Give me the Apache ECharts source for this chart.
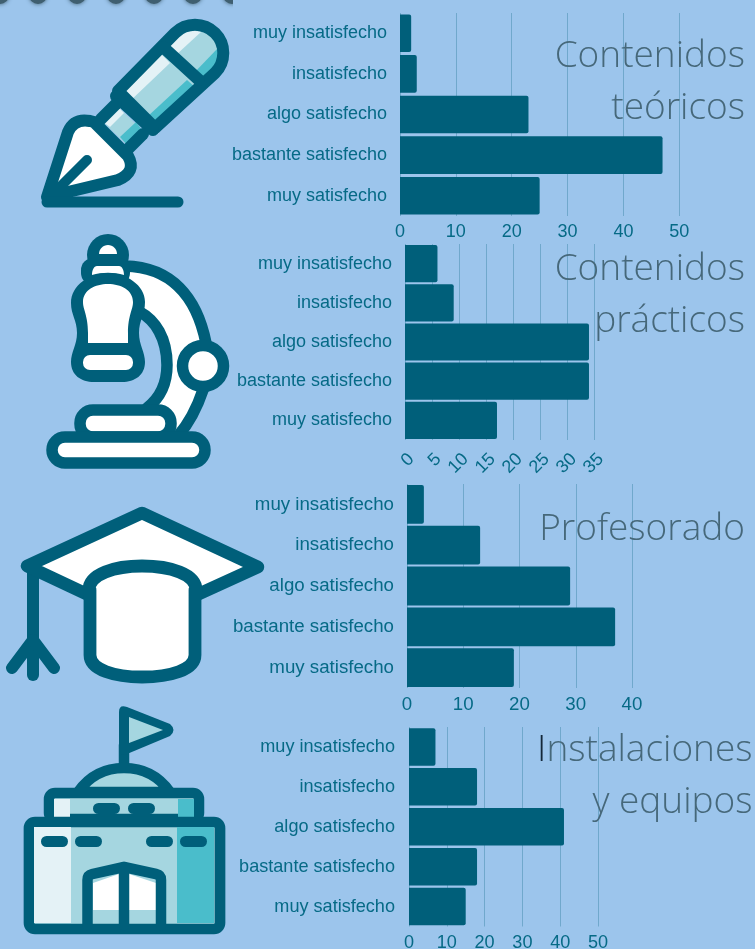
<!DOCTYPE html>
<html>
<head>
<meta charset="utf-8">
<style>html,body{margin:0;padding:0;background:#9cc5ec}#c{width:755px;height:949px}</style>
<script src="https://cdn.jsdelivr.net/npm/echarts@6/dist/echarts.min.js"></script>
</head>
<body>
<div id="c"></div>
<script>
const categories = ['muy insatisfecho','insatisfecho','algo satisfecho','bastante satisfecho','muy satisfecho'];
const teoricos = [2,3,23,47,25];
const practicos = [6,9,34,34,17];
const profesorado = [3,13,29,37,19];
const instalaciones = [7,18,41,18,15];
const titles = ['Contenidos\nteóricos','Contenidos\nprácticos','Profesorado','{i|I}nstalaciones\ny equipos'];

const DARK='#005f7a', LABEL='#066a86', LIGHT='#a5d6e0', PALE='#e4f2f6', TEAL='#4abdcb', WHITE='#ffffff', BG='#9cc5ec';
const panels = [
 {data:teoricos, left:400,width:279.3,top:13,height:203,max:50,interval:10,rotate:0,margin:7,vAlign:null,gap:'7.5%',size:18,catMargin:13},
 {data:practicos,left:405,width:189.4,top:244,height:196,max:35,interval:5,rotate:45,margin:10,vAlign:'top',gap:'5%',size:18,catMargin:13},
 {data:profesorado,left:407,width:225,top:484,height:204,max:40,interval:10,rotate:0,margin:7,vAlign:null,gap:'5%',size:18.7,catMargin:13},
 {data:instalaciones,left:409,width:189,top:727,height:199.5,max:50,interval:10,rotate:0,margin:7,vAlign:null,gap:'6%',size:18.1,catMargin:14}
];
const titlePos=[{left:745,top:30},{left:745,top:243},{left:745,top:503},{left:752.5,top:724}];

let shapeId=0;
function P(d,fill,stroke,w){
  const name='ic'+(shapeId++);
  echarts.graphic.registerShape(name,echarts.graphic.extendPath(d,{}));
  return {type:name,silent:true,style:{fill:fill||'none',stroke:stroke||'none',lineWidth:w||0,lineJoin:'round',lineCap:'round'}};
}
function R(x,y,w,h,r,fill,stroke,lw){
  return {type:'rect',silent:true,shape:{x,y,width:w,height:h,r},style:{fill,stroke:stroke||'none',lineWidth:lw||0}};
}
function C(cx,cy,r,fill,stroke,lw,extra){
  return {type:'circle',silent:true,shape:{cx,cy,r},style:Object.assign({fill,stroke:stroke||'none',lineWidth:lw||0},extra||{})};
}
const W=12;
const pen=[
 P('M118,91 L175,33 A28,28 0 0 1 215,73 L155,128 Z',LIGHT),
 P('M120,93 L160,53 L170,63 L128,103 Z',PALE),
 P('M147,117 L187,80 L196,88 L155,128 Z',TEAL),
 P('M166,46 C175,36 190,28 201,32 L176,55 Z',PALE),
 P('M218,48 C219,60 216,68 210,74 L202,81 L193,74 Z',TEAL),
 P('M103,122 L118,107 L142,130 L127,145 Z',LIGHT),
 P('M103,122 L118,107 L124,113 L110,127 Z',PALE),
 P('M120,137 L136,122 L142,130 L127,145 Z',TEAL),
 P('M118,91 L175,33 A28,28 0 0 1 215,73 L155,128 Z','none',DARK,W),
 P('M163,47 L199,80','none',DARK,W),
 P('M116,96 L153,130','none',DARK,W),
 P('M101,119 L116,104','none',DARK,W),
 P('M128,149 L143,134','none',DARK,W),
 P('M47,197 L68,132 Q74,118 90,121 L94,122 L128,156 Q137,172 118,180 Z',WHITE,DARK,W),
 P('M87,160 L52,195','none',DARK,10),
 P('M47,202 L178,202','none',DARK,W-1)
];
const micro=[
 P('M125,266 C175,268 195,300 206,343 L203,390 C197,405 192,420 178,436 L150,410 C170,395 175,375 168,355 C165,335 155,320 140,312 Z',WHITE),
 P('M125,266 C172,267 197,298 206,343','none',DARK,11.5),
 P('M203,390 C197,408 190,422 178,436','none',DARK,11.5),
 P('M140,312 C155,320 167,338 167,365 C167,385 160,398 147,408','none',DARK,11.5),
 C(108,255,21,DARK),
 R(81,258,49,27,12,DARK),
 P('M99,254 C99,249 103,245 108,245 C113,245 117,249 117,254 Z',WHITE),
 P('M92,275 C92,270 94,266 97,266 L119,266 C122,266 124,270 124,275 C114,272 102,272 92,275 Z',WHITE),
 P('M71,303 C71,285 90,273 108,273 C126,273 145,285 145,302 C145,315 139,320 139,333 C139,345 145,352 145,362 C145,375 135,382 122,382 L94,382 C81,382 71,375 71,362 C71,352 77,345 77,333 C77,320 71,315 71,303 Z',DARK),
 P('M83,302 C83,290 95,284 108,284 C121,284 133,290 133,302 C133,310 128,315 128,333 L128,343 L88,343 L88,333 C88,315 83,310 83,302 Z',WHITE),
 R(83,355,50,15,7,WHITE),
 R(80,410,91,27,13,WHITE,DARK,11.5),
 R(52,437,153,26,13,WHITE,DARK,11.5),
 C(203,366,20.5,WHITE,DARK,11.5)
];
const cap=[
 P('M33,675 L33,566','none',DARK,12),
 P('M33,640 L12,668','none',DARK,12),
 P('M33,640 L54,668','none',DARK,12),
 P('M142,513 L258,567 L190,598 L95,598 L27,566 Z',WHITE,DARK,12.5),
 P('M89,590 C89,574 115,566 142,566 C170,566 196,574 196,590 L195,655 C195,670 170,677 142,677 C115,677 89,670 89,655 Z',WHITE),
 P('M89,590 C89,574 115,566 142,566 C170,566 196,574 196,590 M195,590 L195,655 C195,670 170,677 142,677 C115,677 90,670 90,655 L90,590','none',DARK,12.8)
];
const build=[
 P('M124,767 L124,745','none',DARK,10.5),
 P('M119,712 Q119,704 127,707 L170,724 Q177,730 170,736 L127,754 Q119,756 119,750 Z',DARK),
 P('M129,717 L163,730 L129,743 Z',LIGHT),
 P('M78,792 C90,775 105,768 124,768 C143,768 158,775 170,792 Z',LIGHT,DARK,10.5),
 R(49,793,150,26,6,LIGHT,DARK,10.5),
 R(54,799,16,18,0,PALE),
 R(178,799,16,18,0,TEAL),
 R(93,803,27,11,5.5,DARK),
 R(128,803,27,11,5.5,DARK),
 R(29,822,191,107,6,LIGHT,DARK,10.7),
 R(34,827,37,96,0,PALE),
 R(177,827,37,96,0,TEAL),
 R(41,836,27,11,5.5,DARK),
 R(75,836,27,11,5.5,DARK),
 R(146,836,27,11,5.5,DARK),
 R(180,836,27,11,5.5,DARK),
 P('M93,883 L119,874 L119,910 L93,910 Z',WHITE),
 P('M129,874 L156,883 L156,910 L129,910 Z',WHITE),
 P('M87.5,925 L87.5,880 Q87.5,875 92,874 L124,867 L156,874 Q161,875 161,880 L161,925','none',DARK,10.5),
 P('M124,867 L124,925','none',DARK,10.5)
];
const dots=[0,38,77,116,154,193,232].map(x=>C(x,-5,9,'#3f5f70','none',0,{shadowBlur:4,shadowColor:'#3f5f70'}));
const dotMask=[R(233,0,30,12,0,BG)];

const chart=echarts.init(document.getElementById('c'),null,{renderer:'canvas'});
chart.setOption({
  backgroundColor:BG,
  animation:false,
  title:titles.map((t,i)=>({text:t,textAlign:'right',left:titlePos[i].left,top:titlePos[i].top,
    padding:0,textStyle:{fontFamily:'"Open Sans"',fontWeight:300,fontSize:37,lineHeight:52,color:'#46687a',
      rich:{i:{fontFamily:'"Open Sans"',fontWeight:300,fontSize:37,lineHeight:52,color:'#14283a'}}}})),
  grid:panels.map(p=>({left:p.left,width:p.width,top:p.top,height:p.height,containLabel:false,outerBoundsMode:'none'})),
  xAxis:panels.map((p,i)=>{
    const axisLabel={color:LABEL,fontFamily:'"Liberation Sans"',fontSize:p.size,margin:p.margin,rotate:p.rotate};
    if(p.vAlign) axisLabel.verticalAlign=p.vAlign;
    return {type:'value',gridIndex:i,min:0,max:p.max,interval:p.interval,
      axisLine:{show:false},axisTick:{show:false},
      splitLine:{show:true,lineStyle:{color:'rgba(0,95,122,0.28)',width:1}},
      axisLabel};
  }),
  yAxis:panels.map((p,i)=>({type:'category',gridIndex:i,data:categories,inverse:true,
    axisLine:{show:false},axisTick:{show:false},splitLine:{show:false},
    axisLabel:{color:LABEL,fontFamily:'"Liberation Sans"',fontSize:p.size,margin:p.catMargin}})),
  series:panels.map((p,i)=>({type:'bar',xAxisIndex:i,yAxisIndex:i,data:p.data,barCategoryGap:p.gap,
    itemStyle:{color:DARK,borderRadius:[0,2,2,0]}})),
  graphic:{elements:[].concat(dots,dotMask,pen,micro,cap,build)}
});
</script>
</body>
</html>
